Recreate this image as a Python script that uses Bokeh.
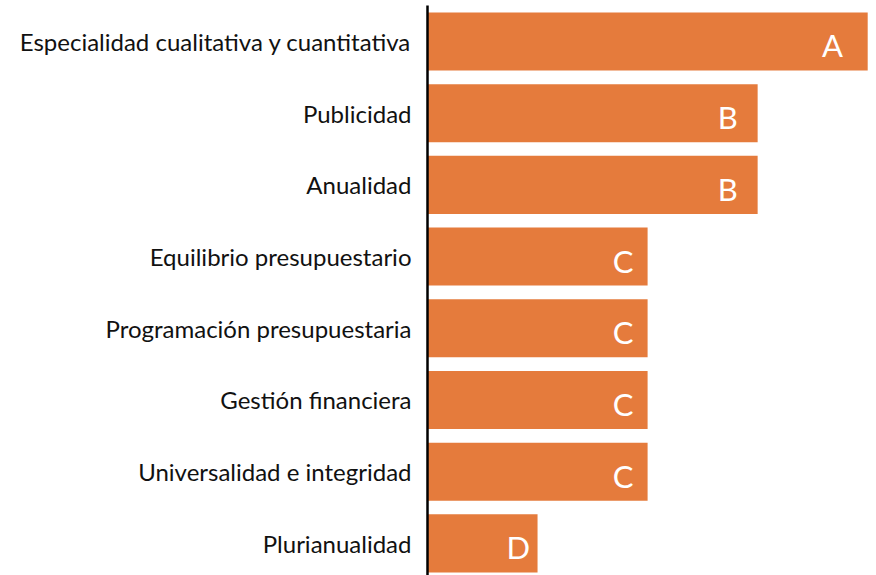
from bokeh.plotting import figure
from bokeh.models import Range1d, FixedTicker, ColumnDataSource
from bokeh.core.properties import value
from bokeh.embed import file_html
from bokeh.resources import INLINE

categories = [
    "Especialidad cualitativa y cuantitativa",
    "Publicidad",
    "Anualidad",
    "Equilibrio presupuestario",
    "Programación presupuestaria",
    "Gestión financiera",
    "Universalidad e integridad",
    "Plurianualidad",
]
scores = [4, 3, 3, 2, 2, 2, 2, 1]
grades = ["A", "B", "B", "C", "C", "C", "C", "D"]

n = len(categories)
ypos = [n - 1 - i for i in range(n)]
label_x = [v * 0.952 - 0.127 for v in scores]

src = ColumnDataSource(dict(y=ypos, v=scores, g=grades, lx=label_x))

p = figure(width=876, height=575, output_backend="svg", toolbar_location=None,
           x_range=Range1d(0, 4.08), y_range=Range1d(-0.448, 7.502),
           min_border_left=427, min_border_right=0, min_border_top=5, min_border_bottom=0)
p.outline_line_color = None
p.grid.visible = False
p.xaxis.visible = False

p.hbar(y="y", left=0, right="v", height=0.81, source=src, color="#E57B3C", line_color=None)
p.text(x="lx", y="y", text="g", source=src, text_color="white",
       text_font=value("Lato"), text_font_size="31px", text_align="center",
       text_baseline="middle", y_offset=4)

yax = p.yaxis[0]
yax.ticker = FixedTicker(ticks=ypos)
yax.major_label_overrides = {y: c for y, c in zip(ypos, categories)}
yax.major_tick_line_color = None
yax.minor_tick_line_color = None
yax.major_tick_out = 0
yax.major_tick_in = 0
yax.major_label_standoff = 16
yax.axis_line_color = "black"
yax.axis_line_width = 2.5
yax.major_label_text_font = "Lato"
yax.major_label_text_font_size = "24px"
yax.major_label_text_color = "#111111"

open("out.html", "w").write(file_html(p, INLINE))
